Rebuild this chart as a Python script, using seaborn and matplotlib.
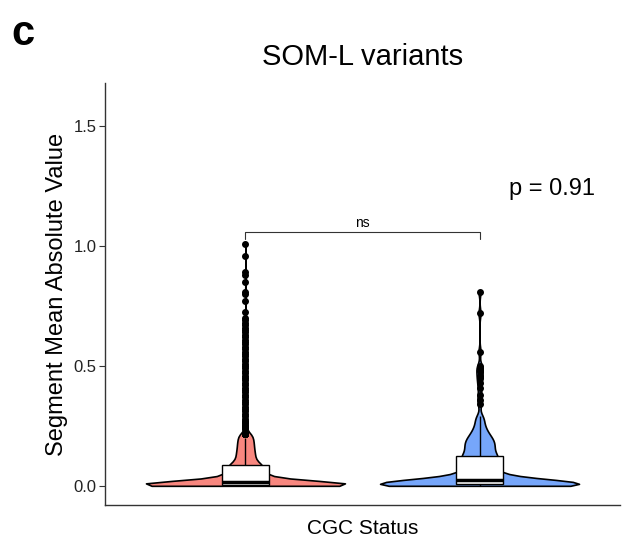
import numpy as np
import pandas as pd
import matplotlib
matplotlib.use('Agg')
import matplotlib.pyplot as plt
import seaborn as sns

# groups and colours
groups = ['Non-CGC', 'CGC']
colors = ['#F8877F', '#76A6FA']

# non-CGC: bulk of values (value -> how many)
left_core_values = [0.000, 0.004, 0.008, 0.012, 0.016, 0.025, 0.035, 0.045, 0.055, 0.065,
                    0.075, 0.085, 0.095, 0.110, 0.125, 0.140, 0.155, 0.170, 0.185, 0.200, 0.215]
left_core_counts = [200, 100, 80, 70, 60, 45, 35, 30, 28, 27,
                    26, 25, 24, 22, 20, 20, 18, 18, 17, 16, 15]
# non-CGC: long tail
left_tail = [0.235, 0.24, 0.245, 0.25, 0.255, 0.26, 0.265, 0.27, 0.28, 0.29, 0.30, 0.31,
             0.32, 0.33, 0.34, 0.35, 0.36, 0.37, 0.38, 0.39, 0.40, 0.41, 0.42, 0.43,
             0.44, 0.45, 0.46, 0.47, 0.48, 0.49, 0.50, 0.51, 0.52, 0.53, 0.54, 0.55,
             0.56, 0.57, 0.58, 0.59, 0.60, 0.61, 0.62, 0.63, 0.64, 0.65, 0.66, 0.67,
             0.68, 0.69, 0.70, 0.725, 0.77, 0.80, 0.81, 0.85, 0.88, 0.89, 0.96, 1.01]

# CGC
right_core_values = [0.000, 0.004, 0.008, 0.012, 0.016, 0.025, 0.035, 0.045, 0.055, 0.065,
                     0.075, 0.085, 0.095, 0.105, 0.115, 0.125, 0.140, 0.160, 0.180, 0.200,
                     0.220, 0.240, 0.260, 0.280, 0.290]
right_core_counts = [30, 20, 18, 16, 16, 8, 6, 5, 5, 4,
                     4, 4, 4, 4, 5, 5, 6, 7, 7, 6,
                     4, 3, 2, 2, 1]
right_tail = [0.34, 0.36, 0.38, 0.41, 0.43, 0.45, 0.46, 0.48, 0.49, 0.50, 0.56, 0.72, 0.81]

p_label = 'p = 0.91'

left_vals = np.concatenate([np.repeat(left_core_values, left_core_counts), left_tail])
right_vals = np.concatenate([np.repeat(right_core_values, right_core_counts), right_tail])
df = pd.DataFrame({
    'group': [groups[0]] * len(left_vals) + [groups[1]] * len(right_vals),
    'value': np.concatenate([left_vals, right_vals]),
})

sns.set_style('white')
plt.rcParams['font.family'] = ['Liberation Sans', 'DejaVu Sans']
plt.rcParams['text.color'] = 'black'
plt.rcParams['axes.labelcolor'] = 'black'

fig = plt.figure(figsize=(6.25, 5.43), dpi=100)
ax = fig.add_axes([0.168, 0.070, 0.824, 0.777])

sns.violinplot(data=df, x='group', y='value', hue='group', palette=colors, order=groups,
               inner=None, cut=0, density_norm='width', width=0.85, linewidth=1.2,
               linecolor='black', bw_adjust=0.4, saturation=1, legend=False, ax=ax)
sns.boxplot(data=df, x='group', y='value', order=groups, width=0.2, color='white',
            linecolor='black', linewidth=1, saturation=1, showcaps=False, fliersize=4,
            flierprops=dict(marker='o', markerfacecolor='black', markeredgecolor='black'),
            medianprops=dict(linewidth=2.5), ax=ax)

# comparison bracket
ax.plot([0, 0, 1, 1], [1.03, 1.058, 1.058, 1.03], color='#333333', lw=0.8)
ax.text(0.5, 1.068, 'ns', ha='center', va='bottom', fontsize=10)
ax.text(1.31, 1.24, p_label, ha='center', va='center', fontsize=17)

ax.set_xlim(-0.6, 1.6)
ax.set_ylim(-0.08, 1.68)
ax.set_yticks([0.0, 0.5, 1.0, 1.5])
ax.set_yticklabels(['0.0', '0.5', '1.0', '1.5'], fontsize=12, color='#222222')
ax.set_xticks([])
ax.tick_params(axis='y', left=True, length=4, width=0.8, color='#333333', pad=2)
ax.set_xlabel('CGC Status', fontsize=15, labelpad=10)
ax.set_ylabel('Segment Mean Absolute Value', fontsize=17, labelpad=4)
ax.set_title('SOM-L variants', fontsize=21, pad=13)
for s in ['top', 'right']:
    ax.spines[s].set_visible(False)
for s in ['left', 'bottom']:
    ax.spines[s].set_color('#333333')
    ax.spines[s].set_linewidth(1)

fig.text(0.018, 0.975, 'c', fontsize=30, fontweight='bold', va='top', ha='left',
         family=['Liberation Sans Narrow', 'Liberation Sans'])

fig.savefig('out.png', dpi=100)
